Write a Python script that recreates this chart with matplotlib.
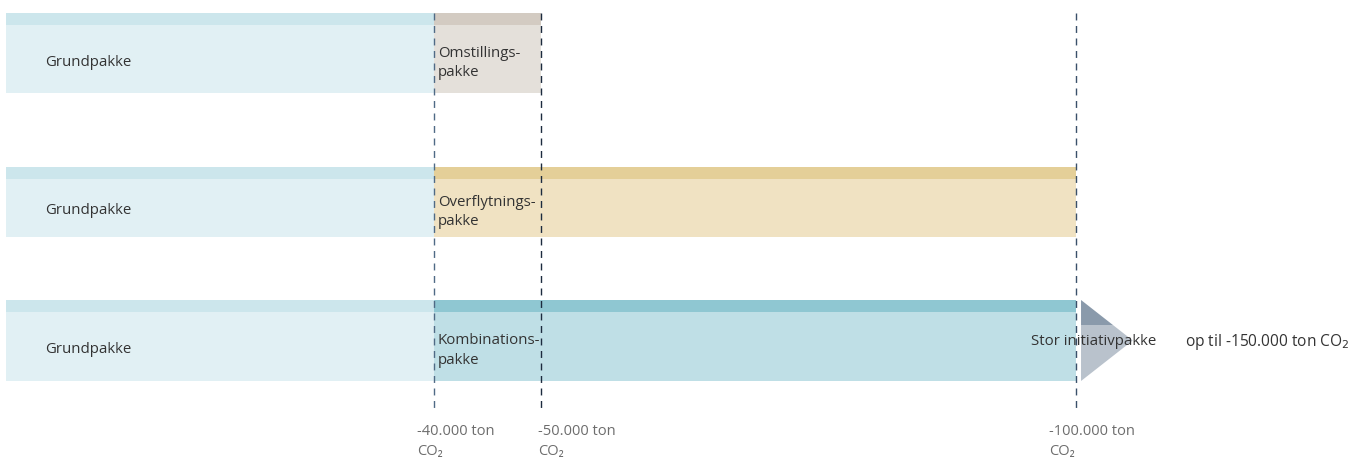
import matplotlib.pyplot as plt
from matplotlib.patches import Polygon

plt.rcParams['font.family'] = ['Open Sans', 'DejaVu Sans']

# CO2 reduction (tons) for each package scenario
rows = ["Omstillingspakke", "Overflytningspakke", "Kombinationspakke"]
base_end = [40000, 40000, 40000]
pkg_end = [50000, 100000, 100000]
pkg_labels = ["Omstillings-\npakke", "Overflytnings-\npakke", "Kombinations-\npakke"]
base_label = "Grundpakke"
markers = [40000, 50000, 100000]
marker_labels = ["-40.000 ton\nCO\u2082", "-50.000 ton\nCO\u2082", "-100.000 ton\nCO\u2082"]
big_label = "Stor initiativpakke"
big_value = "op til -150.000 ton CO$_2$"

# layout: (top, strip bottom, bar bottom) in figure pixels
row_y = [(13, 25, 93), (167, 179, 237), (300, 312, 381)]
base_colors = ("#cce6ec", "#e1f0f4")
pkg_colors = [("#d3cbc2", "#e4e0da"), ("#e4cf98", "#f0e2c2"), ("#8fc7d2", "#bfdfe6")]
line_colors = ["#4f6a85", "#1c2b3e", "#3a506a"]
label_shift = [1600, 300, 2550]

W, H = 1363, 462
px = 0.0107  # pixels per ton
x0 = 6

fig = plt.figure(figsize=(W / 100, H / 100), dpi=100)
ax = fig.add_axes([0, 0, 1, 1])
ax.set_xlim(-x0 / px, (W - x0) / px)
ax.set_ylim(H, 0)
ax.axis("off")

for i in range(len(rows)):
    top, mid, bot = row_y[i]
    ax.barh(top, base_end[i], height=mid - top, align="edge", color=base_colors[0], lw=0)
    ax.barh(mid, base_end[i], height=bot - mid, align="edge", color=base_colors[1], lw=0)
    w = pkg_end[i] - base_end[i]
    ax.barh(top, w, left=base_end[i], height=mid - top, align="edge", color=pkg_colors[i][0], lw=0)
    ax.barh(mid, w, left=base_end[i], height=bot - mid, align="edge", color=pkg_colors[i][1], lw=0)
    yc = (mid + bot) / 2
    ax.text(3700, yc + 3, base_label, fontsize=10.8, color="#333333", va="center", ha="left")
    ax.text(base_end[i] + 350, yc + 4, pkg_labels[i], fontsize=10.8, color="#333333",
            va="center", ha="left", linespacing=1.45)

# arrow towards the large initiative package
top, mid, bot = row_y[2]
a0, a1 = 100470, 105300
yt = (top + bot) / 2
split = 325
xs = a0 + (a1 - a0) * (split - top) / (yt - top)
ax.add_patch(Polygon([(a0, top), (xs, split), (a0, split)], closed=True, color="#8a9aab", lw=0))
ax.add_patch(Polygon([(a0, split), (xs, split), (a1, yt), (a0, bot)], closed=True,
                     color="#b9c2cc", lw=0))
ax.text(107500, yt + 1, big_label, fontsize=10.8, color="#333333", va="center", ha="right")
ax.text(110200, yt + 1, big_value, fontsize=11.2, color="#333333", va="center", ha="left")

for m, lab, c, s in zip(markers, marker_labels, line_colors, label_shift):
    ax.plot([m, m], [13, 410], color=c, lw=1, ls=(0, (5, 4)))
    ax.text(m - s, 424, lab, fontsize=10.5, color="#6d6d6d", va="top", ha="left",
            linespacing=1.45)

fig.savefig("out.png", dpi=100)
